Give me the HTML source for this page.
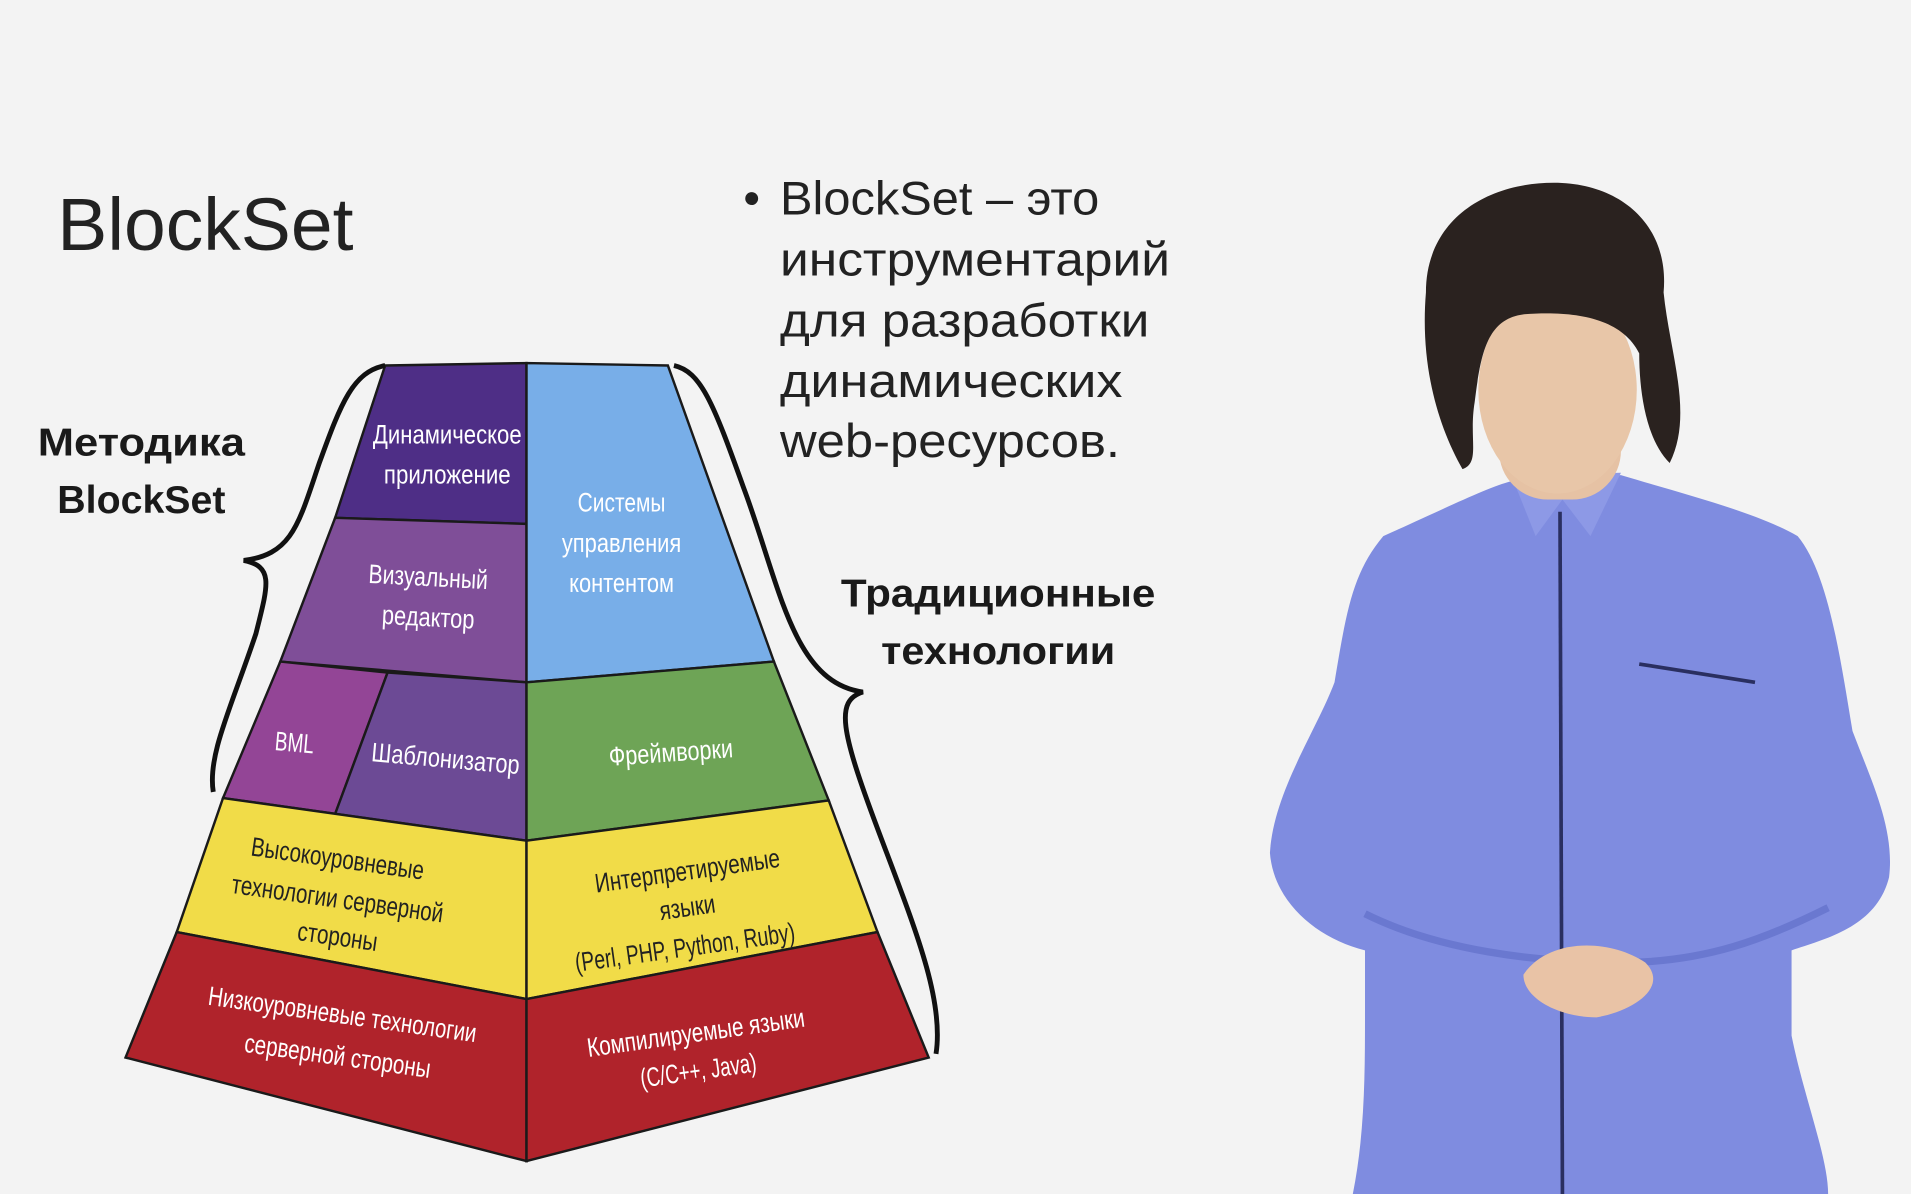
<!DOCTYPE html>
<html><head><meta charset="utf-8"><style>
html,body{margin:0;padding:0;background:#f3f3f3;}
svg{display:block}
text{font-family:"Liberation Sans",sans-serif;}
</style></head><body>
<svg width="1911" height="1194" viewBox="0 0 1568 980" preserveAspectRatio="none" xmlns="http://www.w3.org/2000/svg">
<rect width="1568" height="980" fill="#f3f3f3"/>
<text x="47" y="205" font-size="61" fill="#222" textLength="243" lengthAdjust="spacingAndGlyphs">BlockSet</text>
<g font-size="39" fill="#222">
<text x="610" y="176">•</text>
<text x="640" y="176" textLength="262" lengthAdjust="spacingAndGlyphs">BlockSet – это</text>
<text x="640" y="226" textLength="320" lengthAdjust="spacingAndGlyphs">инструментарий</text>
<text x="640" y="276" textLength="303" lengthAdjust="spacingAndGlyphs">для разработки</text>
<text x="640" y="326" textLength="281" lengthAdjust="spacingAndGlyphs">динамических</text>
<text x="640" y="375" textLength="279" lengthAdjust="spacingAndGlyphs">web-ресурсов.</text>
</g>
<g font-size="32" font-weight="bold" fill="#1a1a1a" text-anchor="middle">
<text x="116" y="374" textLength="170" lengthAdjust="spacingAndGlyphs">Методика</text>
<text x="116" y="421" textLength="138" lengthAdjust="spacingAndGlyphs">BlockSet</text>
<text x="819" y="498" textLength="258" lengthAdjust="spacingAndGlyphs">Традиционные</text>
<text x="819" y="545" textLength="192" lengthAdjust="spacingAndGlyphs">технологии</text>
</g>
<g stroke="#1a1a1a" stroke-width="2">
<polygon points="316,300 432,298 432,430 275,425" fill="#4e2e86"/>
<polygon points="275,425 432,430 432,560 230,543" fill="#7f4e98"/>
<polygon points="230,543 318,552 275,668 183,655" fill="#934596"/>
<polygon points="318,552 432,560 432,690 275,668" fill="#6c4a95"/>
<polygon points="432,298 548,300 635,543 432,560" fill="#78aee8"/>
<polygon points="432,560 635,543 680,657 432,690" fill="#6ea456"/>
<polygon points="183,655 432,690 432,820 145,765" fill="#f1dc48"/>
<polygon points="432,690 680,657 720,765 432,820" fill="#f1dc48"/>
<polygon points="145,765 432,820 432,953 103,868" fill="#b0232b"/>
<polygon points="432,820 720,765 762,868 432,953" fill="#b0232b"/>
</g>
<g fill="none" stroke="#111" stroke-width="4">
<path d="M316,300 C290,305 280,330 262,380 C245,430 240,455 200,460 C225,465 220,480 210,520 C190,580 170,620 175,650"/>
<path d="M553,300 C575,305 585,330 610,400 C640,480 650,560 708,568 C685,575 690,600 720,680 C750,760 775,820 768,865"/>
</g>
<g font-size="22" fill="#fff" text-anchor="middle" lengthAdjust="spacingAndGlyphs">
<text x="367" y="364" textLength="122" lengthAdjust="spacingAndGlyphs">Динамическое</text>
<text x="367" y="397" textLength="104" lengthAdjust="spacingAndGlyphs">приложение</text>
<text x="351" y="481" transform="rotate(3 351 481)" textLength="98" lengthAdjust="spacingAndGlyphs">Визуальный</text>
<text x="351" y="514" transform="rotate(3 351 514)" textLength="76" lengthAdjust="spacingAndGlyphs">редактор</text>
<text x="241" y="617" transform="rotate(5 241 617)" textLength="32" lengthAdjust="spacingAndGlyphs">BML</text>
<text x="365" y="630" transform="rotate(5 365 630)" textLength="122" lengthAdjust="spacingAndGlyphs">Шаблонизатор</text>
<text x="510" y="420" textLength="72" lengthAdjust="spacingAndGlyphs">Системы</text>
<text x="510" y="453" textLength="98" lengthAdjust="spacingAndGlyphs">управления</text>
<text x="510" y="486" textLength="86" lengthAdjust="spacingAndGlyphs">контентом</text>
<text x="551" y="625" transform="rotate(-4 551 625)" textLength="102" lengthAdjust="spacingAndGlyphs">Фреймворки</text>
</g>
<g font-size="22" fill="#222" text-anchor="middle">
<text x="276" y="712" transform="rotate(8 276 712)" textLength="143" lengthAdjust="spacingAndGlyphs">Высокоуровневые</text>
<text x="276" y="745" transform="rotate(8 276 745)" textLength="175" lengthAdjust="spacingAndGlyphs">технологии серверной</text>
<text x="276" y="776" transform="rotate(8 276 776)" textLength="66" lengthAdjust="spacingAndGlyphs">стороны</text>
<text x="565" y="722" transform="rotate(-8 565 722)" textLength="153" lengthAdjust="spacingAndGlyphs">Интерпретируемые</text>
<text x="565" y="752" transform="rotate(-8 565 752)" textLength="46" lengthAdjust="spacingAndGlyphs">языки</text>
<text x="563" y="785" transform="rotate(-8 563 785)" textLength="182" lengthAdjust="spacingAndGlyphs">(Perl, PHP, Python, Ruby)</text>
</g>
<g font-size="22" fill="#fff" text-anchor="middle">
<text x="280" y="840" transform="rotate(8 280 840)" textLength="222" lengthAdjust="spacingAndGlyphs">Низкоуровневые технологии</text>
<text x="276" y="874" transform="rotate(8 276 874)" textLength="154" lengthAdjust="spacingAndGlyphs">серверной стороны</text>
<text x="572" y="855" transform="rotate(-8 572 855)" textLength="180" lengthAdjust="spacingAndGlyphs">Компилируемые языки</text>
<text x="574" y="886" transform="rotate(-8 574 886)" textLength="96" lengthAdjust="spacingAndGlyphs">(C/C++, Java)</text>
</g>
<!-- person -->
<path d="M1135,440 C1180,420 1220,400 1240,395 L1330,390 C1380,405 1440,420 1475,440 C1500,470 1510,540 1520,600 C1535,640 1555,680 1550,720 C1540,760 1500,770 1470,780 L1470,850 C1480,900 1500,950 1500,980 L1110,980 C1120,930 1120,880 1120,830 L1120,780 C1080,770 1045,740 1042,700 C1045,650 1080,600 1095,560 C1105,500 1110,470 1135,440 Z" fill="#7f8ce0"/>
<path d="M1120,750 C1180,780 1260,790 1330,790 C1400,790 1450,770 1500,745" fill="none" stroke="#6a78d0" stroke-width="6"/>
<line x1="1280" y1="420" x2="1282" y2="980" stroke="#2a2f60" stroke-width="3"/>
<line x1="1345" y1="545" x2="1440" y2="560" stroke="#2a2f60" stroke-width="3"/>
<path d="M1240,390 L1260,440 L1282,410 L1305,440 L1330,388 Z" fill="#8d99e6"/>
<path d="M1250,800 C1270,770 1320,770 1350,790 C1370,810 1340,830 1310,835 C1280,835 1250,820 1250,800 Z" fill="#e9c3a6"/>
<rect x="1230" y="330" width="100" height="80" rx="40" fill="#e6c2a4"/>
<ellipse cx="1278" cy="320" rx="65" ry="85" fill="#e8c6a8"/>
<path d="M1170,240 C1170,180 1220,150 1275,150 C1330,150 1370,185 1365,240 C1370,290 1390,340 1370,380 C1350,360 1345,320 1345,290 C1330,260 1290,255 1250,258 C1220,262 1215,290 1210,330 C1205,360 1215,380 1200,385 C1180,350 1165,300 1170,240 Z" fill="#2a221f"/>
</svg>
</body></html>
